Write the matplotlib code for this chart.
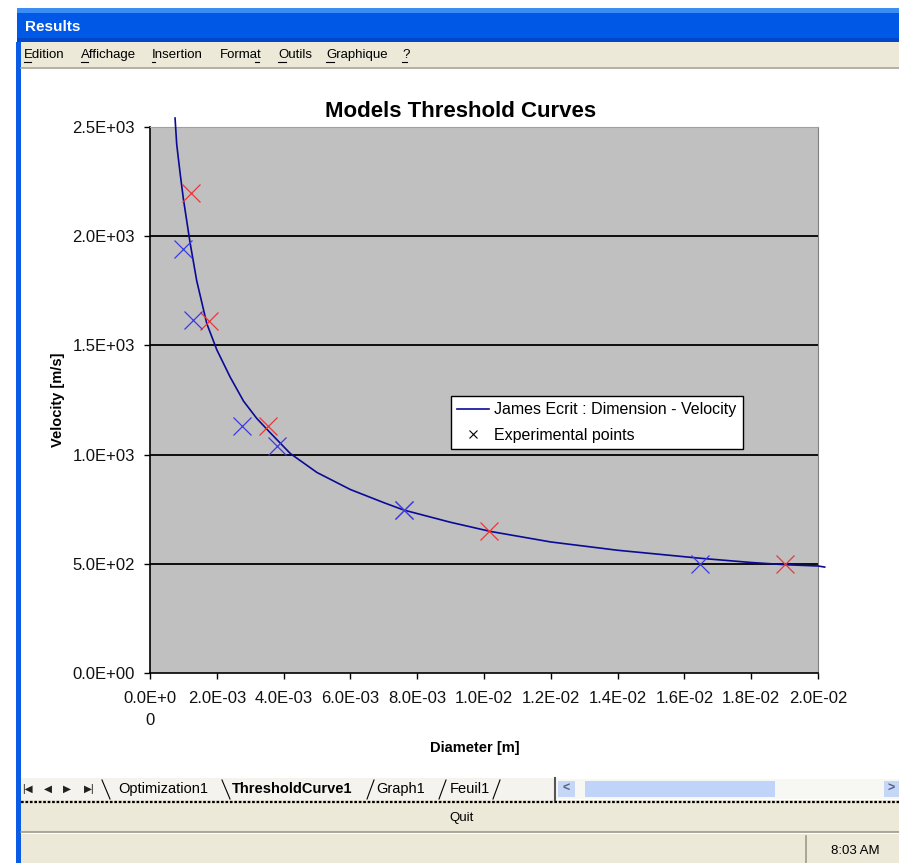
import matplotlib.pyplot as plt
from matplotlib.patches import Rectangle
from matplotlib.lines import Line2D

# model curve (James Ecrit)
curve_d = [0.00075, 0.0008, 0.0009, 0.0010, 0.0012, 0.0014, 0.0017, 0.0020,
           0.0024, 0.0028, 0.0032, 0.0036, 0.0042, 0.0050, 0.0060, 0.0070,
           0.0076, 0.0090, 0.0102, 0.0120, 0.0140, 0.0165, 0.0180, 0.0190,
           0.0200, 0.0202]
curve_v = [2541, 2420, 2290, 2170, 1970, 1795, 1600, 1480,
           1355, 1245, 1165, 1100, 1005, 918, 840, 780,
           746, 690, 648, 600, 562, 525, 506, 496,
           490, 485]

# experimental points
red_d = [0.00123, 0.00177, 0.00353, 0.0076, 0.01015, 0.0190]
red_v = [2200, 1610, 1130, 745, 650, 500]
blue_d = [0.00099, 0.00129, 0.00275, 0.0038, 0.0076, 0.01647]
blue_v = [1940, 1615, 1130, 1040, 745, 500]

x_ticks = [0.0, 0.002, 0.004, 0.006, 0.008, 0.010, 0.012, 0.014, 0.016, 0.018, 0.020]
x_labels = ["0.0E+0\n0", "2.0E-03", "4.0E-03", "6.0E-03", "8.0E-03", "1.0E-02",
            "1.2E-02", "1.4E-02", "1.6E-02", "1.8E-02", "2.0E-02"]
y_ticks = [0, 500, 1000, 1500, 2000, 2500]
y_labels = ["0.0E+00", "5.0E+02", "1.0E+03", "1.5E+03", "2.0E+03", "2.5E+03"]

menu_items = ["Edition", "Affichage", "Insertion", "Format", "Outils", "Graphique", "?"]
menu_x = [24, 81, 152, 220, 278, 326, 402]
tabs = ["Optimization1", "ThresholdCurve1", "Graph1", "Feuil1"]
tab_x = [118, 232, 376, 450]

W, H = 899, 863
plt.rcParams['font.family'] = ['Liberation Sans', 'DejaVu Sans']
fig = plt.figure(figsize=(W / 100, H / 100), dpi=100)
fig.patch.set_facecolor('white')

BEIGE = '#ece9d8'


def box(x0, y0, x1, y1, color, z=0, **kw):
    fig.add_artist(Rectangle((x0 / W, 1 - y1 / H), (x1 - x0) / W, (y1 - y0) / H,
                             transform=fig.transFigure, facecolor=color,
                             edgecolor='none', zorder=z, **kw))


def seg(x0, y0, x1, y1, color, lw=1, **kw):
    fig.add_artist(Line2D([x0 / W, x1 / W], [1 - y0 / H, 1 - y1 / H],
                          transform=fig.transFigure, color=color, lw=lw, **kw))


def txt(x, y, s, **kw):
    fig.text(x / W, 1 - y / H, s, **kw)


# window chrome: title bar
box(17, 8, 899, 42, '#0058e6')
box(17, 8, 899, 13, '#3b8cf5')
box(17, 38, 899, 42, '#0047c9')
txt(25, 27, "Results", color='white', fontsize=11, fontweight='bold', va='center')
# left frame
box(16, 42, 21, 863, '#0a5ce6')
# menu bar
box(21, 42, 899, 68, BEIGE)
seg(21, 68.5, 899, 68.5, '#a8a69a', lw=1.2)
for name, mx in zip(menu_items, menu_x):
    txt(mx, 55, name, fontsize=9.5, va='center', color='black')
# mnemonic underlines
for ux0, ux1 in [(24, 31), (81, 88), (152, 155), (255, 259), (278, 286), (326, 334), (402, 407)]:
    seg(ux0, 62, ux1, 62, 'black', lw=0.8)

# sheet tabs
box(21, 778, 555, 800, '#f4f3ee')
nav = ["|\u25c0", "\u25c0", "\u25b6", "\u25b6|"]
for s, nx in zip(nav, [27, 48, 67, 89]):
    txt(nx, 789, s, fontsize=7.5, va='center', ha='center', color='#222222')
for name, tx in zip(tabs, tab_x):
    bold = name == "ThresholdCurve1"
    txt(tx, 789, name, fontsize=10.5, va='center', color='black',
        fontweight='bold' if bold else 'normal')
for sx in [102, 222]:
    seg(sx, 780, sx + 8, 799, 'black', lw=0.8)
for sx in [374, 446, 500]:
    seg(sx, 780, sx - 7, 799, 'black', lw=0.8)
seg(555, 778, 555, 800, '#555555', lw=1.5)
# scrollbar
box(556, 779, 899, 799, '#f7f7f4')
box(558, 781, 575, 797, '#c6d6f7')
box(585, 781, 775, 797, '#c0d3f8')
box(884, 781, 899, 797, '#c6d6f7')
txt(566, 789, "<", fontsize=9, ha='center', va='center', color='#4d6185', fontweight='bold')
txt(891, 789, ">", fontsize=9, ha='center', va='center', color='#4d6185', fontweight='bold')
# splitter (dotted)
box(21, 800, 899, 832, BEIGE)
seg(21, 801.5, 899, 801.5, 'black', lw=1.6, linestyle=(0, (1.2, 0.8)))
txt(462, 818, "Quit", fontsize=9.5, ha='center', va='center')
seg(21, 832, 899, 832, '#9c9a8c', lw=1.2)
# status bar
box(21, 834, 899, 863, BEIGE)
seg(806, 836, 806, 863, '#9c9a8c', lw=1.2)
txt(855, 851, "8:03 AM", fontsize=9.5, ha='center', va='center')

# chart
ax = fig.add_axes([150 / W, (H - 673) / H, 668 / W, 546 / H])
ax.set_facecolor('#c0c0c0')
ax.set_xlim(0, 0.02)
ax.set_ylim(0, 2500)
for y in y_ticks[1:-1]:
    ax.axhline(y, color='black', lw=1.3, zorder=1)

ax.plot(curve_d, curve_v, color='#0a0a96', lw=1.2, zorder=3, clip_on=False,
        label="James Ecrit : Dimension - Velocity")
ax.plot(red_d, red_v, ls='none', marker='x', ms=13, mew=0.9, color='#e8383c', zorder=4)
ax.plot(blue_d, blue_v, ls='none', marker='x', ms=13, mew=0.9, color='#3a3ae6', zorder=4)

ax.set_xticks(x_ticks)
ax.set_xticklabels(x_labels, fontsize=12, linespacing=1.6, color='#111111')
ax.set_yticks(y_ticks)
ax.set_yticklabels(y_labels, fontsize=12, color='#111111')
ax.tick_params(axis='x', direction='out', length=4, width=1, pad=9)
ax.tick_params(axis='y', direction='out', length=4, width=1, pad=7)

ax.spines['left'].set_color('black')
ax.spines['bottom'].set_color('black')
ax.spines['left'].set_linewidth(1.2)
ax.spines['bottom'].set_linewidth(1.2)
ax.spines['right'].set_color('#808080')
ax.spines['top'].set_color('#a0a0a0')

ax.set_title("Models Threshold Curves", fontsize=16, fontweight='bold', pad=7, x=0.4656)
ax.set_xlabel("Diameter [m]", fontsize=10.5, fontweight='bold')
ax.xaxis.set_label_coords(0.4865, -0.1245)
ax.set_ylabel("Velocity [m/s]", fontsize=10.5, fontweight='bold', labelpad=5)

handles = [Line2D([], [], color='#0a0a96', lw=1.2),
           Line2D([], [], ls='none', marker='x', ms=6, mew=0.8, color='black')]
leg = ax.legend(handles, ["James Ecrit : Dimension - Velocity", "Experimental points"],
                loc='upper left', bbox_to_anchor=(0.4506, 0.5073), fontsize=11.5,
                frameon=True, fancybox=False, framealpha=1, edgecolor='black',
                borderpad=0.4, labelspacing=0.65, handlelength=2.0,
                handletextpad=0.3, borderaxespad=0)
leg.get_frame().set_linewidth(1.0)

fig.savefig('out.png', dpi=100)
